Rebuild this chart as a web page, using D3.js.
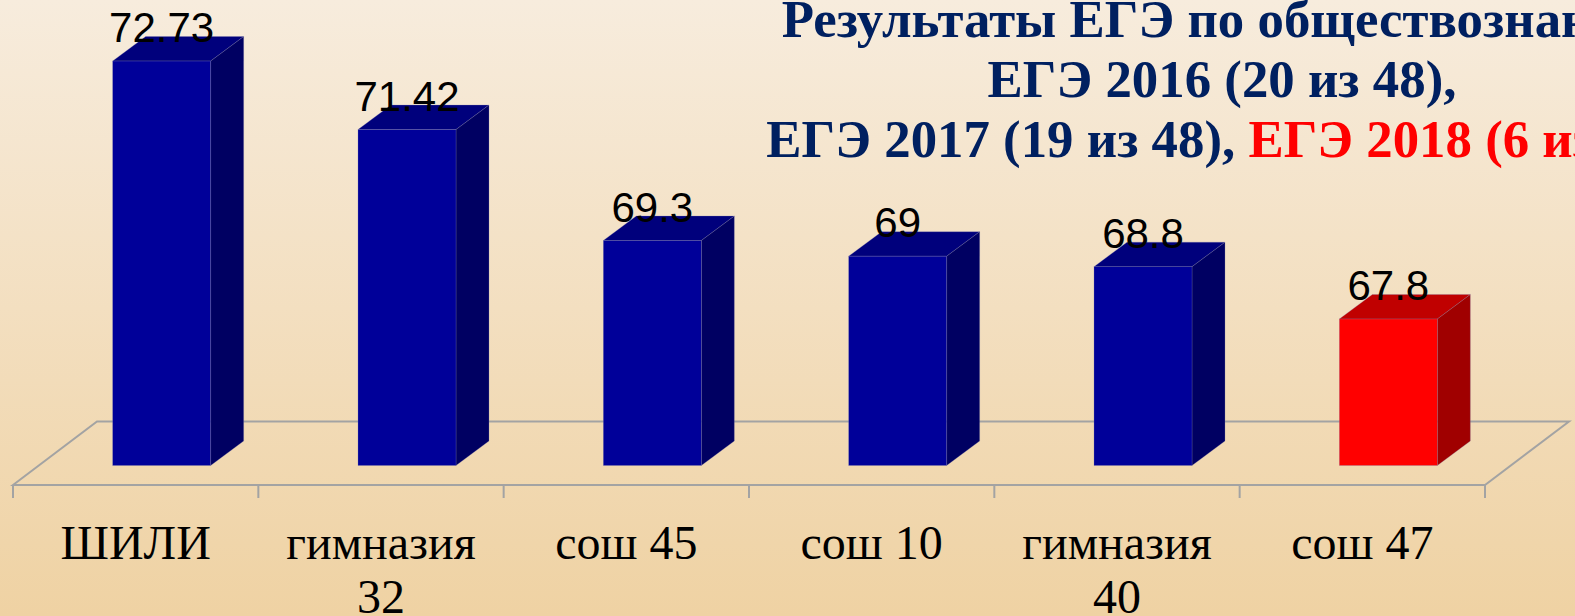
<!DOCTYPE html>
<html>
<head>
<meta charset="utf-8">
<script src="https://cdn.jsdelivr.net/npm/d3@7/dist/d3.min.js"></script>
<style>
  html, body { margin: 0; padding: 0; overflow: hidden; }
</style>
</head>
<body>
<svg id="chart"></svg>
<script>

var width = 1575;
var height = 616;

// data
var categories = ["ШИЛИ", "гимназия 32", "сош 45", "сош 10", "гимназия 40", "сош 47"];
var values = [72.73, 71.42, 69.3, 69, 68.8, 67.8];
var highlight = [false, false, false, false, false, true];
var titleLines = [
    [{ t: "Результаты ЕГЭ по обществознанию", red: false }],
    [{ t: "ЕГЭ 2016 (20 из 48),", red: false }],
    [{ t: "ЕГЭ 2017 (19 из 48), ", red: false }, { t: "ЕГЭ 2018 (6 из 48)", red: true }]
];

var blue = { front: "#000099", top: "#00007c", side: "#000062" };
var red = { front: "#ff0000", top: "#c00000", side: "#a00000" };

var svg = d3.select("#chart")
    .attr("width", width)
    .attr("height", height);

// background gradient
var grad = svg.append("defs").append("linearGradient")
    .attr("id", "bg")
    .attr("x1", 0).attr("y1", 0).attr("x2", 0).attr("y2", 1);
grad.append("stop").attr("offset", "0%").attr("stop-color", "#f7ecdd");
grad.append("stop").attr("offset", "100%").attr("stop-color", "#efd2a3");

svg.append("rect")
    .attr("width", width)
    .attr("height", height)
    .attr("fill", "url(#bg)");

// scales
var x = d3.scaleBand()
    .domain(categories)
    .range([13, 1485])
    .paddingInner(0)
    .paddingOuter(0);

var y = d3.scaleLinear()
    .domain([65, 73])
    .range([465.5, 46.9]);

var floorY = 485;
var floorDX = 84, floorDY = -63.5;   // depth of the floor
var offX = 26, offY = -19.5;         // bar front face inside the floor
var depX = 33, depY = -24.5;         // bar depth
var barW = 98;

// floor
var floor = svg.append("g")
    .attr("fill", "none")
    .attr("stroke", "#a3a3a3")
    .attr("stroke-width", 2);

var x0 = x.range()[0], x1 = x.range()[1];
floor.append("path")
    .attr("d", "M" + x0 + "," + floorY +
        "L" + (x0 + floorDX) + "," + (floorY + floorDY) +
        "L" + (x1 + floorDX) + "," + (floorY + floorDY) +
        "L" + x1 + "," + floorY + "Z");

// ticks
floor.selectAll("line.tick")
    .data(d3.range(categories.length + 1))
    .enter()
    .append("line")
    .attr("x1", i => x0 + i * x.bandwidth())
    .attr("x2", i => x0 + i * x.bandwidth())
    .attr("y1", floorY)
    .attr("y2", floorY + 13);

// bars
var bars = svg.append("g")
    .selectAll("g")
    .data(categories)
    .enter()
    .append("g");

function left(d) { return x(d) + x.bandwidth() / 2 + offX - barW / 2; }
function col(i) { return highlight[i] ? red : blue; }
var base = y(65);

// top face
bars.append("path")
    .attr("d", (d, i) => {
        var l = left(d), t = y(values[i]);
        return "M" + l + "," + t + "L" + (l + depX) + "," + (t + depY) +
            "L" + (l + barW + depX) + "," + (t + depY) + "L" + (l + barW) + "," + t + "Z";
    })
    .attr("fill", (d, i) => col(i).top);

// side face
bars.append("path")
    .attr("d", (d, i) => {
        var r = left(d) + barW, t = y(values[i]);
        return "M" + r + "," + t + "L" + (r + depX) + "," + (t + depY) +
            "L" + (r + depX) + "," + (base + depY) + "L" + r + "," + base + "Z";
    })
    .attr("fill", (d, i) => col(i).side);

// front face
bars.append("rect")
    .attr("x", d => left(d))
    .attr("y", (d, i) => y(values[i]))
    .attr("width", barW)
    .attr("height", (d, i) => base - y(values[i]))
    .attr("fill", (d, i) => col(i).front);

bars.selectAll("path, rect")
    .attr("stroke", "#8080b0")
    .attr("stroke-width", 0.6)
    .attr("stroke-opacity", 0.45);

// value labels
bars.append("text")
    .attr("x", d => left(d) + barW / 2)
    .attr("y", (d, i) => y(values[i]) - 19)
    .attr("text-anchor", "middle")
    .attr("font-family", "'Liberation Sans', Arial, sans-serif")
    .attr("font-size", 42)
    .attr("fill", "#000")
    .text((d, i) => values[i]);

// category labels (wrapped to the band width)
var catG = svg.append("g")
    .attr("font-family", "'Liberation Serif', 'Times New Roman', serif")
    .attr("font-size", 48)
    .attr("fill", "#000")
    .attr("text-anchor", "middle");

categories.forEach(function (c) {
    var cx = x(c) + x.bandwidth() / 2;
    var t = catG.append("text").attr("x", cx).attr("y", 559).text(c);
    if (t.node().getComputedTextLength() > x.bandwidth()) {
        var words = c.split(" ");
        t.text(null);
        words.forEach(function (w, k) {
            t.append("tspan").attr("x", cx).attr("y", 559 + k * 54).text(w);
        });
    }
});

// title
var titleG = svg.append("g")
    .attr("font-family", "'Liberation Serif', 'Times New Roman', serif")
    .attr("font-weight", "bold")
    .attr("font-size", 53);

var titleCx = 1222;
var titleBase = [37, 97, 157];
var titleTexts = titleLines.map(function (parts, k) {
    var t = titleG.append("text")
        .attr("x", 0)
        .attr("y", titleBase[k])
        .attr("text-anchor", "middle");
    parts.forEach(function (p) {
        t.append("tspan")
            .attr("fill", p.red ? "#ff0000" : "#002060")
            .text(p.t);
    });
    return t;
});
// the reference lettering is condensed: squeeze so line 2 fits its width
var sx = 469 / titleTexts[1].node().getComputedTextLength();
titleG.attr("transform", "translate(" + titleCx + ",0) scale(" + sx + ",1)");

</script>
</body>
</html>
